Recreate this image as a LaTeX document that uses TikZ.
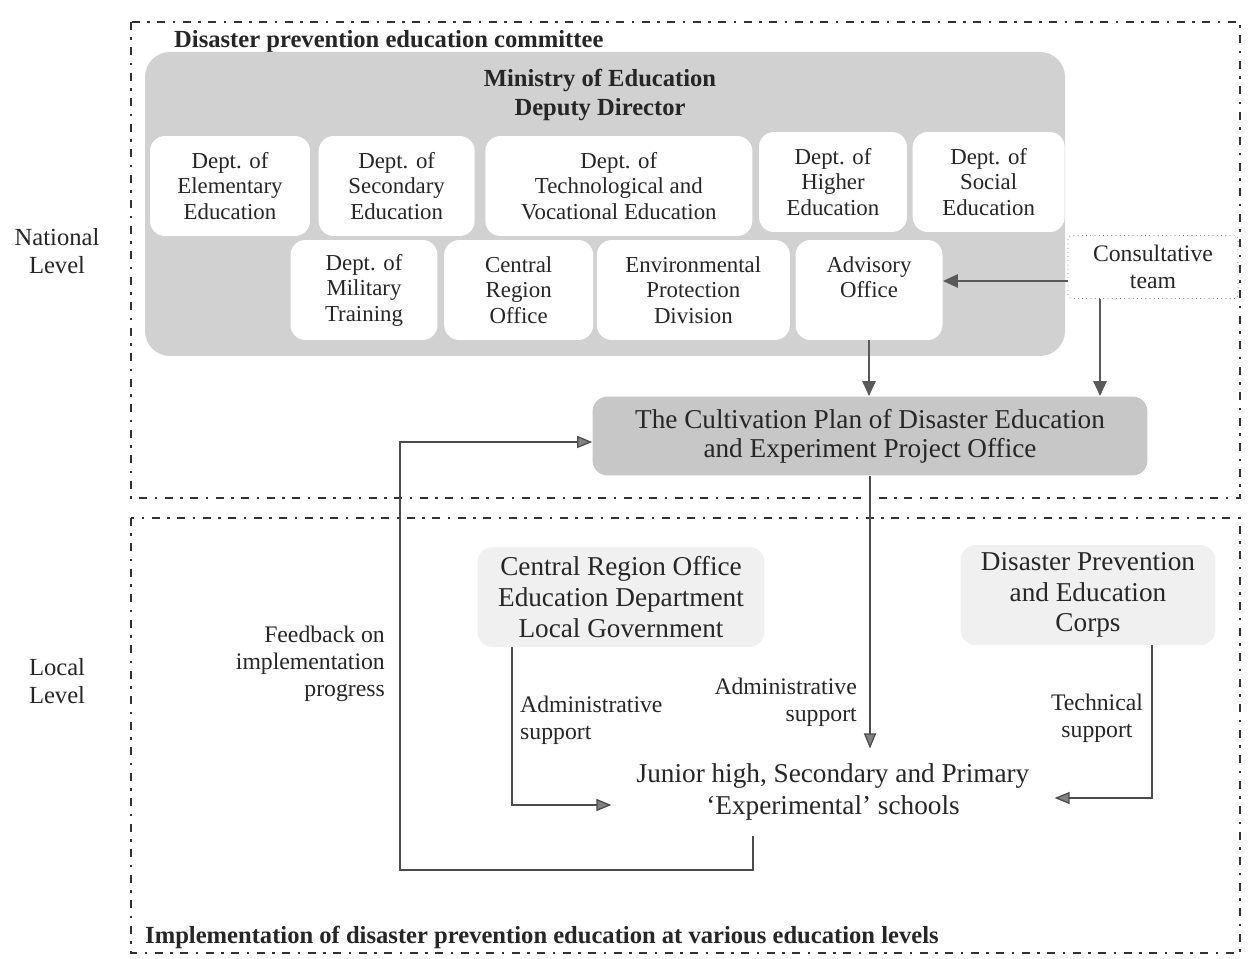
\documentclass[tikz,border=0pt]{standalone}
\usepackage{fontspec}
\setmainfont{Liberation Serif}
\usetikzlibrary{positioning,arrows.meta}

\begin{document}
\begin{tikzpicture}[x=0.02cm, y=-0.02cm,
    levelFrame/.style={draw=black!80, line width=0.05cm, dash pattern=on 0.16cm off 0.15cm on 0.05cm off 0.15cm},
    deptBox/.style={rectangle, rounded corners=0.3cm, fill=white, align=center, minimum height=2cm, inner sep=0pt, text=black!85, font=\fontsize{13}{14.5}\selectfont},
    softBox/.style={rectangle, rounded corners=0.3cm, fill=black!6, align=center, minimum width=5.1cm, minimum height=2cm, text=black!85, font=\fontsize{15.5}{17.5}\selectfont},
    thickArrow/.style={draw=black!65, line width=0.05cm, -{Triangle[length=0.3cm, width=0.26cm]}},
    thinArrow/.style={draw=black!70, line width=0.025cm, -{Triangle[length=0.3cm, width=0.24cm, fill=black!50]}},
    sideText/.style={align=center, text=black!85, font=\fontsize{14}{16}\selectfont},
    smallText/.style={text=black!85, font=\fontsize{13.5}{15.5}\selectfont}]
        \useasboundingbox (0,0) rectangle (1248,959);

        % the two level frames
        \draw[levelFrame] (131,22) rectangle (1240,498);
        \draw[levelFrame] (131,518) rectangle (1240,953);

        \node (natNode) [sideText] at (57,251) {National\\Level};
        \node (locNode) [sideText] at (57,681) {Local\\Level};

        \node (comTitle) [anchor=west, text=black!85, font=\fontsize{14}{16}\bfseries] at (168,42) {Disaster prevention education committee};
        \node (impTitle) [anchor=west, text=black!85, font=\fontsize{14}{16}\bfseries] at (139,937) {Implementation of disaster prevention education at various education levels};

        % ministry block
        \fill[black!18, rounded corners=0.5cm] (145,52) rectangle (1065,356);
        \node (minNode) [align=center, text=black!85, font=\fontsize{14}{17}\bfseries] at (600,95) {Ministry of Education\\Deputy Director};

        \node[deptBox, minimum width=3.2cm] (elemNode) at (230,186) {Dept. of\\Elementary\\Education};
        \node[deptBox, minimum width=3.12cm] (secNode) [right = 0.16cm of elemNode] {Dept. of\\Secondary\\Education};
        \node[deptBox, minimum width=5.34cm] (techNode) [right = 0.2cm of secNode] {Dept. of\\Technological and\\Vocational Education};
        \node[deptBox, minimum width=2.96cm] (highNode) [right = 0.12cm of techNode, yshift=0.08cm] {Dept. of\\Higher\\Education};
        \node[deptBox, minimum width=3.04cm] (socNode) [right = 0.1cm of highNode] {Dept. of\\Social\\Education};

        \node[deptBox, minimum width=2.94cm] (milNode) at (364,290) {Dept. of\\Military\\Training};
        \node[deptBox, minimum width=2.98cm] (cenNode) [right = 0.12cm of milNode] {Central\\Region\\Office};
        \node[deptBox, minimum width=3.86cm] (envNode) [right = 0.06cm of cenNode] {Environmental\\Protection\\Division};
        \node[deptBox, minimum width=2.94cm] (advNode) [right = 0.1cm of envNode] {Advisory\\Office\\\phantom{O}};

        \node[rectangle, draw=black!60, dotted, rounded corners=2pt, minimum width=3.4cm, minimum height=1.26cm, align=center, smallText] (conNode) at (1153,267) {Consultative\\team};

        \node[rectangle, rounded corners=0.3cm, fill=black!22, minimum width=11.1cm, minimum height=1.58cm, align=center, text=black!85, font=\fontsize{15.5}{16.5}\selectfont] (planNode) at (870,436) {The Cultivation Plan of Disaster Education\\and Experiment Project Office};

        \draw[thickArrow] (conNode.west |- 0,281) -- (advNode.east |- 0,281);
        \draw[thickArrow] (advNode.south) -- (advNode.south |- planNode.north);
        \draw[thickArrow] ([xshift=-1.06cm]conNode.south) -- ([xshift=-1.06cm]conNode.south |- planNode.north);

        % local level
        \node[softBox, minimum width=5.74cm] (regNode) at (621,597) {Central Region Office\\Education Department\\Local Government};
        \node[softBox] (corpsNode) at (1088,595) {Disaster Prevention\\and Education\\Corps};
        \node[align=center, inner xsep=0.5cm, inner ysep=0.3cm, text=black!85, font=\fontsize{15.5}{18}\selectfont] (schoolNode) at (833,792) {Junior high, Secondary and Primary\\`Experimental' schools};

        \draw[thinArrow] (planNode.south) -- (planNode.south |- schoolNode.north);
        \draw[thinArrow] ([xshift=-2.18cm]regNode.south) |- ([yshift=-0.26cm]schoolNode.west);
        \draw[thinArrow] ([xshift=1.28cm]corpsNode.south) |- ([yshift=-0.12cm]schoolNode.east);

        \coordinate (fbCorner) at (400,870);
        \draw[thinArrow] ([xshift=-1.6cm]schoolNode.south) |- (fbCorner) |- ([yshift=-0.12cm]planNode.west);

        \node[smallText, align=right, anchor=east] (fbLabel) at (391,664) {Feedback on\\implementation\\progress};
        \node[smallText, align=left, anchor=west] (admLabelA) at (514,720) {Administrative\\support};
        \node[smallText, align=right, anchor=east] (admLabelB) at (863,702) {Administrative\\support};
        \node[smallText, align=center] (techLabel) at (1097,718) {Technical\\support};
\end{tikzpicture}
\end{document}
